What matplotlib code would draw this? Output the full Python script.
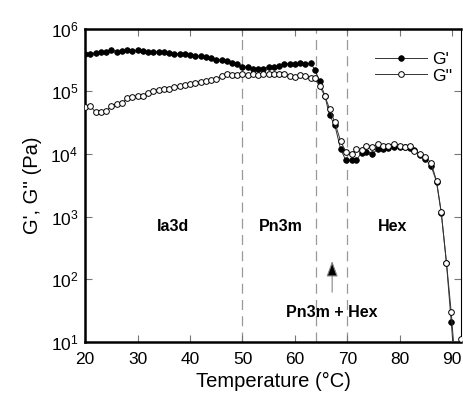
import matplotlib
matplotlib.use('Agg')
from matplotlib import pyplot as plt
from matplotlib.ticker import LogLocator, NullLocator

plt.rcParams['font.family'] = ['Liberation Sans', 'DejaVu Sans']
plt.rcParams['mathtext.fontset'] = 'custom'
plt.rcParams['mathtext.rm'] = 'Liberation Sans'
plt.rcParams['mathtext.it'] = 'Liberation Sans'
plt.rcParams['mathtext.default'] = 'regular'

# Temperature (deg C) of each measurement
temp = [20, 21, 22, 23, 24, 25, 26, 27, 28, 29, 30, 31, 32, 33, 34, 35, 36, 37, 38, 39,
        40, 41, 42, 43, 44, 45, 46, 47, 48, 49, 50, 51, 52, 53, 54, 55, 56, 57, 58, 59,
        60, 61, 62, 63, 63.8, 64.7, 65.7, 66.6, 67.6, 68.7, 69.7, 70.8, 71.7, 72.7, 73.6,
        74.7, 75.8, 76.8, 77.7, 78.9, 80.0, 80.9, 81.9, 82.8, 83.9, 84.9, 86.0, 87.0, 87.9,
        88.9, 89.8, 90.6]

# storage modulus G' (Pa)
g_storage = [3.9e5, 4.0e5, 4.1e5, 4.2e5, 4.3e5, 4.5e5, 4.3e5, 4.4e5, 4.5e5, 4.4e5,
             4.5e5, 4.4e5, 4.3e5, 4.3e5, 4.2e5, 4.2e5, 4.1e5, 4.0e5, 4.0e5, 3.9e5,
             3.8e5, 3.7e5, 3.6e5, 3.5e5, 3.4e5, 3.2e5, 3.1e5, 3.0e5, 2.85e5, 2.7e5,
             2.45e5, 2.4e5, 2.3e5, 2.3e5, 2.3e5, 2.45e5, 2.45e5, 2.5e5, 2.75e5, 2.75e5,
             2.75e5, 2.8e5, 2.75e5, 2.8e5, 2.2e5, 1.45e5, 8.5e4, 4.1e4, 2.9e4, 1.2e4,
             7.9e3, 7.9e3, 7.9e3, 1.05e4, 1.08e4, 1.0e4, 1.18e4, 1.18e4, 1.25e4, 1.27e4,
             1.27e4, 1.27e4, 1.25e4, 1.15e4, 9.6e3, 8.3e3, 6.3e3, 3.6e3, 1.15e3, 180,
             21, 3]

# loss modulus G'' (Pa)
temp_loss = temp + [91.6]
g_loss = [5.6e4, 5.8e4, 4.6e4, 4.6e4, 4.8e4, 5.8e4, 6.3e4, 6.4e4, 7.7e4, 8.0e4,
          8.3e4, 8.5e4, 9.5e4, 1.02e5, 1.06e5, 1.08e5, 1.1e5, 1.18e5, 1.2e5, 1.25e5,
          1.3e5, 1.35e5, 1.42e5, 1.45e5, 1.5e5, 1.55e5, 1.75e5, 1.87e5, 1.8e5, 1.8e5,
          1.87e5, 1.8e5, 1.85e5, 1.8e5, 1.85e5, 1.85e5, 1.9e5, 1.85e5, 1.85e5, 1.75e5,
          1.7e5, 1.8e5, 1.75e5, 1.65e5, 1.6e5, 1.2e5, 8.5e4, 5.2e4, 3.2e4, 1.6e4,
          1.08e4, 1.0e4, 1.18e4, 1.15e4, 1.33e4, 1.27e4, 1.45e4, 1.33e4, 1.36e4, 1.45e4,
          1.33e4, 1.3e4, 1.33e4, 1.1e4, 1.0e4, 9.0e3, 7.1e3, 3.7e3, 1.18e3, 184,
          30, 4, 11]

# phase boundaries and labels
boundaries = [50, 64, 70]
phases = ['Ia3d', 'Pn3m', 'Hex']
phase_x = [36.7, 57.4, 78.7]
phase_y = 690

fig = plt.figure(figsize=(4.63, 3.97), dpi=100)
ax = fig.add_axes([0.184, 0.139, 0.812, 0.789])

for b in boundaries:
    ax.axvline(b, color='#999999', lw=0.9, ls=(0, (8, 5)), zorder=1)

ax.plot(temp, g_storage, '-o', color='#333333', lw=0.7, ms=4.1,
        mfc='black', mec='black', mew=0.5, label="G'", zorder=3)
ax.plot(temp_loss, g_loss, '-o', color='#333333', lw=0.7, ms=4.1,
        mfc='white', mec='black', mew=0.7, label="G''", zorder=4)

for name, x in zip(phases, phase_x):
    ax.text(x, phase_y, name, ha='center', va='center', fontsize=11.5, fontweight='bold')
ax.text(67.0, 29, 'Pn3m + Hex', ha='center', va='center', fontsize=11.5, fontweight='bold')
ax.annotate('', xy=(67.1, 195), xytext=(67.1, 62),
            arrowprops=dict(arrowstyle='-|>,head_length=0.6,head_width=0.22',
                            mutation_scale=16, fc='black', ec='#888888', lw=0.8,
                            shrinkA=0, shrinkB=0))

ax.set_yscale('log')
ax.set_xlim(20, 91.7)
ax.set_ylim(10, 1e6)
ax.set_xticks([20, 30, 40, 50, 60, 70, 80, 90])
ax.yaxis.set_major_locator(LogLocator(base=10, numticks=10))
ax.yaxis.set_minor_locator(NullLocator())
ax.tick_params(direction='in', length=5, width=0.8, color='#777777',
               top=True, right=True, labelsize=12.5)
ax.tick_params(axis='x', pad=7)
ax.tick_params(axis='y', pad=5)
for s in ['left', 'bottom', 'top']:
    ax.spines[s].set_linewidth(1.8)
ax.spines['right'].set_linewidth(0.8)

ax.set_xlabel('Temperature (°C)', fontsize=14.5, labelpad=4)
ax.set_ylabel("G', G'' (Pa)", fontsize=14.5, labelpad=6)

ax.legend(loc='upper right', frameon=False, fontsize=12.5, handlelength=3.0,
          handletextpad=0.3, borderaxespad=0.2, labelspacing=0.1,
          bbox_to_anchor=(1.005, 0.96))

fig.savefig('out.png', dpi=100)
